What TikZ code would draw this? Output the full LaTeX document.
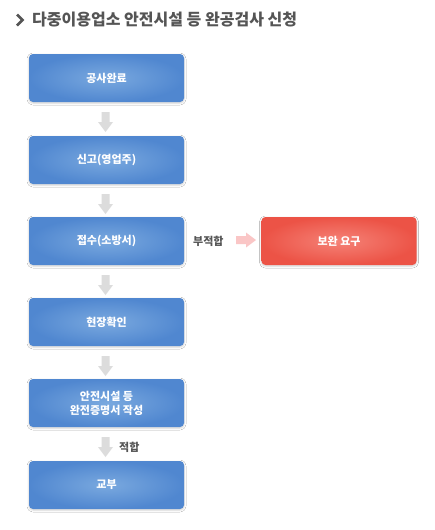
\documentclass[tikz,border=0pt]{standalone}
\usepackage{fontspec}
\setmainfont{Noto Sans CJK KR}
\usetikzlibrary{shadows.blur}
\definecolor{blueout}{HTML}{5087D0}
\definecolor{bluein}{HTML}{7AA9DF}
\definecolor{redout}{HTML}{EC5346}
\definecolor{redin}{HTML}{F58277}
\definecolor{arrgray}{HTML}{DCDCDC}
\definecolor{arrpink}{HTML}{FAC6C6}
\definecolor{titlegray}{HTML}{555555}
\definecolor{labgray}{HTML}{555555}
\tikzset{
  box/.style={rounded corners=4pt, minimum width=155pt, minimum height=48pt,
    inner sep=0pt, align=center, text=white, font=\fontsize{11}{15}\selectfont\bfseries,
    blur shadow={shadow xshift=0pt, shadow yshift=-1pt, shadow blur radius=2pt, shadow opacity=20}},
  bluebox/.style={box, shade, inner color=bluein, outer color=blueout},
  redbox/.style={box, shade, inner color=redin, outer color=redout},
  lab/.style={text=labgray, font=\fontsize{11}{13}\selectfont\bfseries, inner sep=0pt},
  grayarr/.style={fill=arrgray, draw=none},
  pinkarr/.style={fill=arrpink, draw=none}
}
% down arrow starting at top-centre coordinate #1
\newcommand{\myDownArrow}[2]{\fill[#2] (#1) ++(-4,0) -- ++(8,0) -- ++(0,10) -- ++(3.5,0) -- ++(-7.5,10) -- ++(-7.5,-10) -- ++(3.5,0) -- cycle;}
\newcommand{\myRightArrow}[2]{\fill[#2] (#1) ++(0,-4) -- ++(0,8) -- ++(10,0) -- ++(0,3.5) -- ++(10,-7.5) -- ++(-10,-7.5) -- ++(0,3.5) -- cycle;}
\begin{document}
\begin{tikzpicture}[x=1pt,y=-1pt]
\useasboundingbox[fill=white] (0,0) rectangle (434,530);
% title
\coordinate (chev) at (17,14.5);
\draw[titlegray, line width=2.6pt, line join=miter] (chev) -- ++(5.5,5.5) -- ++(-5.5,5.5);
\node[anchor=west, text=titlegray, font=\fontsize{16}{18}\selectfont\bfseries, inner sep=0pt] (title) at (32,20) {다중이용업소 안전시설 등 완공검사 신청};
% boxes
\node[bluebox] (b1) at (106.5,78) {공사완료};
\node[bluebox] (b2) at (106.5,160) {신고(영업주)};
\node[bluebox] (b3) at (106.5,241) {접수(소방서)};
\node[bluebox] (b4) at (106.5,322) {현장확인};
\node[bluebox] (b5) at (106.5,403) {안전시설 등\\[-1pt]완전증명서 작성};
\node[bluebox] (b6) at (106.5,485) {교부};
\node[redbox] (r1) at (339,241) {보완 요구};
% arrows
\coordinate (a1) at (105.5,112);
\coordinate (a2) at (105.5,194);
\coordinate (a3) at (105.5,275);
\coordinate (a4) at (105.5,356);
\coordinate (a5) at (105.5,437);
\coordinate (a6) at (236,240);
\myDownArrow{a1}{grayarr}
\myDownArrow{a2}{grayarr}
\myDownArrow{a3}{grayarr}
\myDownArrow{a4}{grayarr}
\myDownArrow{a5}{grayarr}
\myRightArrow{a6}{pinkarr}
% labels
\node[lab, anchor=west] (l1) at (193,241) {부적합};
\node[lab, anchor=west] (l2) at (119,447) {적합};
\end{tikzpicture}
\end{document}
